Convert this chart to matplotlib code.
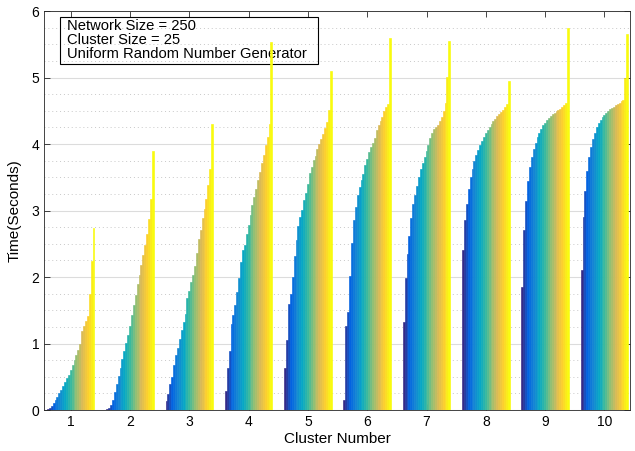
import numpy as np
import matplotlib
matplotlib.use("Agg")
from matplotlib import pyplot as plt
from matplotlib.colors import LinearSegmentedColormap
from matplotlib.patches import Rectangle
from matplotlib.ticker import MultipleLocator

# cluster numbers and the 25 bar heights of each cluster (seconds)
clusters = [1, 2, 3, 4, 5, 6, 7, 8, 9, 10]

c1 = [0.015, 0.035, 0.06, 0.1, 0.15, 0.2, 0.25, 0.3, 0.36, 0.42, 0.48, 0.53, 0.6,
      0.68, 0.75, 0.83, 0.9, 1.0, 1.19, 1.26, 1.34, 1.41, 1.74, 2.24, 2.73]
c2 = [0.015, 0.035, 0.075, 0.15, 0.265, 0.385, 0.515, 0.635, 0.765, 0.885, 1.015,
      1.125, 1.265, 1.425, 1.575, 1.735, 1.9, 2.035, 2.185, 2.325, 2.485, 2.65,
      2.875, 3.175, 3.89]
c3 = [0.14, 0.24, 0.39, 0.5, 0.67, 0.83, 0.93, 1.07, 1.2, 1.33, 1.45, 1.69, 1.79,
      1.93, 2.03, 2.16, 2.36, 2.57, 2.71, 2.89, 3.02, 3.18, 3.39, 3.63, 4.30]
c4 = [0.28, 0.63, 0.88, 1.30, 1.43, 1.58, 1.78, 1.98, 2.23, 2.41, 2.48, 2.64, 2.78,
      2.93, 3.08, 3.21, 3.33, 3.46, 3.58, 3.72, 3.83, 3.98, 4.11, 4.30, 5.53]
c5 = [0.63, 1.05, 1.60, 1.75, 2.0, 2.31, 2.56, 2.76, 2.90, 3.01, 3.16, 3.27, 3.40,
      3.56, 3.65, 3.76, 3.82, 3.92, 4.0, 4.07, 4.15, 4.24, 4.33, 4.51, 5.10]
c6 = [0.15, 1.26, 1.48, 2.02, 2.51, 2.85, 3.06, 3.23, 3.36, 3.46, 3.55, 3.68, 3.78,
      3.88, 3.95, 4.01, 4.09, 4.21, 4.29, 4.35, 4.40, 4.49, 4.55, 4.60, 5.59]
c7 = [1.32, 1.98, 2.35, 2.62, 2.88, 3.10, 3.23, 3.37, 3.51, 3.62, 3.71, 3.81, 3.90,
      3.99, 4.09, 4.16, 4.22, 4.25, 4.29, 4.35, 4.40, 4.49, 4.62, 5.01, 5.55]
c8 = [2.4, 2.85, 3.1, 3.32, 3.5, 3.63, 3.74, 3.83, 3.91, 3.98, 4.05, 4.1, 4.16,
      4.21, 4.26, 4.3, 4.34, 4.38, 4.42, 4.45, 4.48, 4.51, 4.55, 4.6, 4.95]
c9 = [1.85, 2.7, 3.15, 3.45, 3.65, 3.8, 3.92, 4.02, 4.1, 4.17, 4.23, 4.28, 4.32,
      4.36, 4.39, 4.42, 4.45, 4.47, 4.49, 4.51, 4.53, 4.55, 4.58, 4.62, 5.75]
c10 = [2.1, 2.9, 3.3, 3.6, 3.8, 3.95, 4.07, 4.17, 4.25, 4.31, 4.36, 4.4, 4.43,
       4.46, 4.49, 4.52, 4.54, 4.56, 4.58, 4.6, 4.62, 4.64, 4.66, 5.0, 5.65]

info_lines = ["Network Size = 250", "Cluster Size = 25",
              "Uniform Random Number Generator"]

# parula-like colormap
parula = LinearSegmentedColormap.from_list("parula", [
    (0.208, 0.166, 0.529),
    (0.012, 0.388, 0.882),
    (0.078, 0.522, 0.831),
    (0.024, 0.655, 0.776),
    (0.220, 0.725, 0.620),
    (0.573, 0.749, 0.451),
    (0.851, 0.729, 0.337),
    (0.988, 0.808, 0.180),
    (0.976, 0.984, 0.055),
])

plt.rcParams['font.family'] = ['Liberation Sans', 'DejaVu Sans']

values = np.array([c1, c2, c3, c4, c5, c6, c7, c8, c9, c10])
n_series = values.shape[1]
width = 0.8 / n_series
x = np.array(clusters, dtype=float)

fig = plt.figure(figsize=(6.35, 4.51), dpi=100)
ax = fig.add_axes([0.0693, 0.0909, 0.9227, 0.8847])

# thin same-colour edge so the ~2px bars never drop out; later bars cover the overlap
for j in range(n_series):
    col = parula(j / (n_series - 1))
    ax.bar(x + (j - (n_series - 1) / 2) * width, values[:, j], width=width,
           color=col, edgecolor=col, linewidth=0.45, zorder=3)

ax.set_xlim(0.55, 10.43)
ax.set_ylim(0, 6)
ax.set_xticks(clusters)
ax.set_yticks(range(7))
ax.yaxis.set_minor_locator(MultipleLocator(0.25))

# grid on + minor grid, y only
ax.grid(True, which='major', axis='y', color='#dcdcdc', linewidth=0.8, zorder=0)
ax.grid(True, which='minor', axis='y', color='#c8c8c8', linestyle=(0, (1, 3)),
        linewidth=0.7, zorder=0)
ax.set_axisbelow(True)

ax.tick_params(which='major', direction='in', top=True, right=True, length=4,
               width=0.6, colors='#262626', labelsize=10, labelcolor='black')
ax.tick_params(which='minor', left=False, right=False)
for s in ax.spines.values():
    s.set_color('#262626')
    s.set_linewidth(0.6)

ax.set_xlabel("Cluster Number", fontsize=11, labelpad=2)
ax.set_ylabel("Time(Seconds)", fontsize=11, labelpad=7)

# info box (no fill, grid and bars show through)
ax.add_patch(Rectangle((0.0273, 0.867), 0.4403, 0.118, transform=ax.transAxes,
                       facecolor='none', edgecolor='black', linewidth=0.8,
                       zorder=2))
ax.text(0.039, 0.981, "\n".join(info_lines), transform=ax.transAxes,
        ha='left', va='top', fontsize=10.6, linespacing=1.02, zorder=2)

fig.savefig("out.png", dpi=100)
